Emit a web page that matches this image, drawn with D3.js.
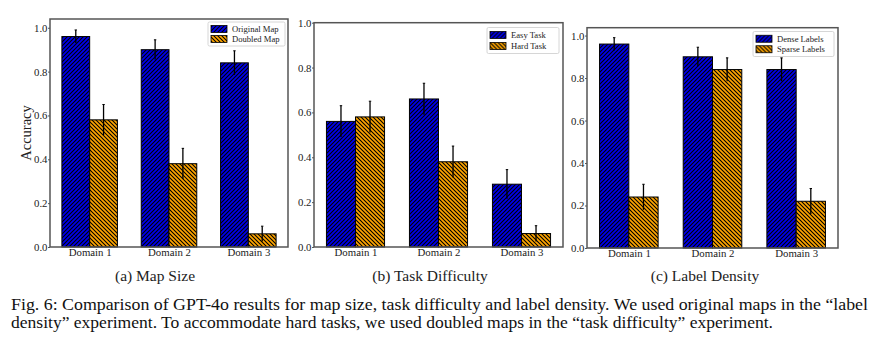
<!DOCTYPE html>
<html>
<head>
<meta charset="utf-8">
<script src="https://cdn.jsdelivr.net/npm/d3@7"></script>
<style>
  body { margin: 0; background: #fff; }
  svg text { font-family: "Liberation Serif", "Times New Roman", serif; fill: #222; }
</style>
</head>
<body>
<div id="chart"></div>
<script>
// ---- data ----
const domains = ["Domain 1", "Domain 2", "Domain 3"];
const yTicks = [0.0, 0.2, 0.4, 0.6, 0.8, 1.0];

const sizeOriginal = [0.96, 0.90, 0.84];
const sizeOriginalErr = [0.03, 0.045, 0.055];
const sizeDoubled = [0.58, 0.38, 0.06];
const sizeDoubledErr = [0.07, 0.07, 0.035];

const diffEasy = [0.56, 0.66, 0.28];
const diffEasyErr = [0.07, 0.07, 0.065];
const diffHard = [0.58, 0.38, 0.06];
const diffHardErr = [0.07, 0.07, 0.035];

const densDense = [0.96, 0.90, 0.84];
const densDenseErr = [0.03, 0.045, 0.055];
const densSparse = [0.24, 0.84, 0.22];
const densSparseErr = [0.06, 0.055, 0.06];

const captionLines = [
    "Fig. 6: Comparison of GPT-4o results for map size, task difficulty and label density. We used original maps in the \u201clabel",
    "density\u201d experiment. To accommodate hard tasks, we used doubled maps in the \u201ctask difficulty\u201d experiment."
];

// panel layout
const panels = [
    {title: "(a) Map Size", titleX: 155, left: 50, right: 288, top: 19, bottom: 247, ymax: 1.04, ylabel: "Accuracy",
     series: [{name: "Original Map", v: sizeOriginal, e: sizeOriginalErr},
              {name: "Doubled Map", v: sizeDoubled, e: sizeDoubledErr}],
     legend: {x: 208, y: 22, w: 77, h: 24}},
    {title: "(b) Task Difficulty", titleX: 430, left: 314, right: 563, top: 22.7, bottom: 247, ymax: 1.0,
     series: [{name: "Easy Task", v: diffEasy, e: diffEasyErr},
              {name: "Hard Task", v: diffHard, e: diffHardErr}],
     legend: {x: 487, y: 27.5, w: 72, h: 26}},
    {title: "(c) Label Density", titleX: 705, left: 587, right: 838, top: 27.7, bottom: 248, ymax: 1.037,
     series: [{name: "Dense Labels", v: densDense, e: densDenseErr},
              {name: "Sparse Labels", v: densSparse, e: densSparseErr}],
     legend: {x: 753, y: 31.5, w: 81, h: 25}}
];

const svg = d3.select("#chart").append("svg")
    .attr("width", 883)
    .attr("height", 342);

// hatch patterns
const defs = svg.append("defs");
function hatch(id, color, forward) {
    let p = defs.append("pattern")
        .attr("id", id)
        .attr("patternUnits", "userSpaceOnUse")
        .attr("width", 4)
        .attr("height", 4);
    p.append("rect").attr("width", 4).attr("height", 4).attr("fill", color);
    let d = forward
        ? "M-1,1 L1,-1 M0,4 L4,0 M3,5 L5,3"
        : "M-1,3 L1,5 M0,0 L4,4 M3,-1 L5,1";
    p.append("path").attr("d", d).attr("stroke", "#000").attr("stroke-width", 1.1);
}
hatch("hatchBlue", "#0000ee", true);
hatch("hatchOrange", "#ffa500", false);
const fills = ["url(#hatchBlue)", "url(#hatchOrange)"];

const barW = 0.35;

panels.forEach(function(pn) {
    let g = svg.append("g");

    let x = d3.scaleLinear().domain([-0.5, 2.5]).range([pn.left, pn.right]);
    let y = d3.scaleLinear().domain([0, pn.ymax]).range([pn.bottom, pn.top]);

    // bars
    pn.series.forEach(function(s, si) {
        let off = si === 0 ? -barW : 0;
        g.selectAll(null)
            .data(s.v)
            .enter()
            .append("rect")
            .attr("x", (d, i) => x(i + off))
            .attr("y", d => y(d))
            .attr("width", x(barW) - x(0))
            .attr("height", d => y(0) - y(d))
            .attr("fill", fills[si])
            .attr("stroke", "#000")
            .attr("stroke-width", 1);
    });

    // error bars
    pn.series.forEach(function(s, si) {
        let cx = i => x(i + (si === 0 ? -barW / 2 : barW / 2));
        let eb = g.selectAll(null)
            .data(s.v.map((d, i) => ({v: d, e: s.e[i], i: i})))
            .enter()
            .append("g");
        eb.append("line")
            .attr("x1", d => cx(d.i)).attr("x2", d => cx(d.i))
            .attr("y1", d => y(d.v - d.e)).attr("y2", d => y(d.v + d.e))
            .attr("stroke", "#000").attr("stroke-width", 1.3);
        eb.append("line")
            .attr("x1", d => cx(d.i) - 1.2).attr("x2", d => cx(d.i) + 1.2)
            .attr("y1", d => y(d.v + d.e)).attr("y2", d => y(d.v + d.e))
            .attr("stroke", "#000").attr("stroke-width", 1);
    });

    // frame
    g.append("rect")
        .attr("x", pn.left).attr("y", pn.top)
        .attr("width", pn.right - pn.left).attr("height", pn.bottom - pn.top)
        .attr("fill", "none")
        .attr("stroke", "#555")
        .attr("stroke-width", 1.5);

    // axes
    let yAxis = d3.axisLeft(y).tickValues(yTicks).tickFormat(d3.format(".1f")).tickSize(2).tickPadding(0.5);
    let ya = g.append("g").attr("transform", `translate(${pn.left},0)`).call(yAxis);
    let xAxis = d3.axisBottom(x).tickValues([0, 1, 2]).tickFormat(i => domains[i]).tickSize(0).tickPadding(1);
    let xa = g.append("g").attr("transform", `translate(0,${pn.bottom})`).call(xAxis);
    [ya, xa].forEach(function(a) {
        a.attr("font-family", "'Liberation Serif', serif").attr("font-size", 10.8);
        a.select(".domain").remove();
        a.selectAll("line").attr("stroke", "#555");
        a.selectAll("text").attr("fill", "#222");
    });

    if (pn.ylabel) {
        g.append("text")
            .attr("transform", `translate(31,${(pn.top + pn.bottom) / 2}) rotate(-90)`)
            .attr("text-anchor", "middle")
            .style("font-size", "14.5px")
            .text(pn.ylabel);
    }

    // legend
    let lg = g.append("g").attr("transform", `translate(${pn.legend.x},${pn.legend.y})`);
    lg.append("rect")
        .attr("width", pn.legend.w).attr("height", pn.legend.h)
        .attr("rx", 1.5)
        .attr("fill", "#fff")
        .attr("stroke", "#ccc")
        .attr("stroke-width", 0.8);
    let rowH = (pn.legend.h - 4) / 2;
    pn.series.forEach(function(s, si) {
        let ry = 2 + si * rowH + rowH / 2;
        lg.append("rect")
            .attr("x", 3).attr("y", ry - 3.5)
            .attr("width", 16).attr("height", 7)
            .attr("fill", fills[si])
            .attr("stroke", "#000").attr("stroke-width", 0.8);
        lg.append("text")
            .attr("x", 24).attr("y", ry)
            .attr("dy", "0.35em")
            .style("font-size", "8.6px")
            .text(s.name);
    });

    // panel title
    svg.append("text")
        .attr("x", pn.titleX)
        .attr("y", 281)
        .attr("text-anchor", "middle")
        .style("font-size", "15.5px")
        .text(pn.title);
});

// figure caption (condensed a little so the lines do not collide)
const capWidths = [857, 762];
svg.selectAll(".cap")
    .data(captionLines)
    .enter()
    .append("text")
    .attr("class", "cap")
    .attr("x", 11)
    .attr("y", (d, i) => 310 + i * 18)
    .attr("textLength", (d, i) => capWidths[i])
    .attr("lengthAdjust", "spacingAndGlyphs")
    .style("font-size", "16px")
    .style("fill", "#111")
    .text(d => d);
</script>
</body>
</html>
